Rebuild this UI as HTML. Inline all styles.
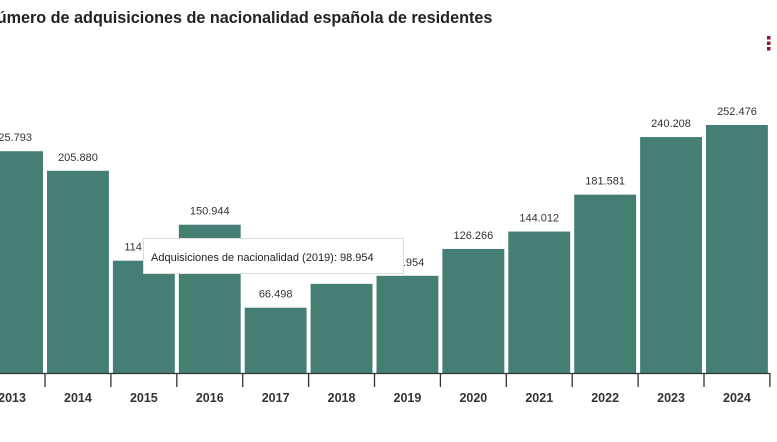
<!DOCTYPE html>
<html><head><meta charset="utf-8"><style>
body{margin:0;width:777px;height:437px;background:#fff;overflow:hidden;font-family:"Liberation Sans",sans-serif}
</style></head><body>
<svg width="777" height="437" xmlns="http://www.w3.org/2000/svg">
<text x="-15" y="23" font-size="16.2" font-weight="bold" fill="#222">Número de adquisiciones de nacionalidad española de residentes</text>
<g fill="#8b1a2b"><rect x="767" y="36" width="3.5" height="3.5"/><rect x="767" y="41.5" width="3.5" height="3.5"/><rect x="767" y="47" width="3.5" height="3.5"/></g>
<g id="bars"></g>
<g>
<rect x="143.5" y="238.5" width="260" height="35" fill="#fff" stroke="#ddd"/>
<text x="151" y="261" font-size="11" fill="#222">Adquisiciones de nacionalidad (2019): 98.954</text>
</g>
</svg>
<script>
const years=["2013","2014","2015","2016","2017","2018","2019","2020","2021","2022","2023","2024"];
const values=[225793,205880,114351,150944,66498,90774,98954,126266,144012,181581,240208,252476];
const labels=["225.793","205.880","114.351","150.944","66.498","90.774","98.954","126.266","144.012","181.581","240.208","252.476"];
const NS="http://www.w3.org/2000/svg";
const g=document.getElementById('bars');
const base=373,step=65.9,x0=-20.9;
const y=v=>base-v*248/252476;
const x=i=>x0+i*step;
function mk(t,a){const e=document.createElementNS(NS,t);for(const k in a)e.setAttribute(k,a[k]);g.appendChild(e);return e;}
years.forEach((yr,i)=>{
 const r=mk('rect',{x:x(i)+2,y:y(values[i]),width:step-4,height:base-y(values[i]),fill:'#457f74'});
 
 
 const t=mk('text',{x:x(i)+step/2,y:y(values[i])-10,'font-size':11,'text-anchor':'middle',fill:'#333'});
 t.textContent=labels[i];
 
 
 const l=mk('text',{x:x(i)+step/2,y:402,'font-size':12.5,'font-weight':'bold','text-anchor':'middle',fill:'#333'});
 l.textContent=yr;
 
 
 const tk=mk('line',{x1:x(i+1),x2:x(i+1),y1:base,y2:387,stroke:'#333','stroke-width':1.3});
 
 
});
const ax=mk('line',{x1:0,x2:x(12),y1:base+0.5,y2:base+0.5,stroke:'#333','stroke-width':1.3});


</script>
</body></html>
